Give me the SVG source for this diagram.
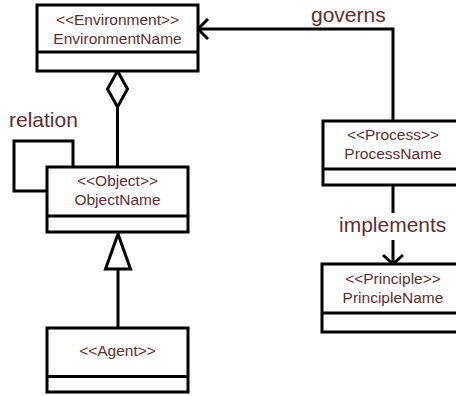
<svg xmlns="http://www.w3.org/2000/svg" width="456" height="396" viewBox="0 0 456 396">
<style>
.box{fill:#fff;stroke:#000;stroke-width:3}
.ln{fill:none;stroke:#000;stroke-width:3}
.t{font-family:"Liberation Sans",Arial,sans-serif;font-size:15.5px;fill:#652d2d;text-anchor:middle}
.lb{font-family:"Liberation Sans",Arial,sans-serif;font-size:21px;fill:#652d2d}
</style>
<rect width="456" height="396" fill="#fff"/>
<g id="connectors">
<polyline class="ln" points="73,167 73,141 14,141 14,191 47,191"/>
<line class="ln" x1="117.5" y1="107" x2="117.5" y2="167"/>
<polygon class="box" points="117.5,71 127.5,89 117.5,107 107.5,89"/>
<line class="ln" x1="118" y1="269" x2="118" y2="328"/>
<polygon class="box" points="118,234 130.5,269 105.5,269"/>
<polyline class="ln" points="393,121 393,29 199,29"/>
<polyline class="ln" points="208,19 198,29 208,39"/>
<line class="ln" x1="393" y1="185" x2="393" y2="213"/>
<line class="ln" x1="393" y1="240" x2="393" y2="264"/>
<polyline class="ln" points="383,255 393,264 403,255"/>
<text class="lb" x="9" y="127">relation</text>
<text class="lb" x="311" y="22">governs</text>
<text class="lb" x="339" y="232">implements</text>
</g>
<g id="environment">
<rect class="box" x="37" y="5" width="161" height="66"/>
<line class="ln" x1="37" y1="52" x2="198" y2="52"/>
<text class="t" x="117.5" y="25">&lt;&lt;Environment&gt;&gt;</text>
<text class="t" x="117.5" y="44">EnvironmentName</text>
</g>
<g id="object">
<rect class="box" x="47" y="167" width="141" height="65"/>
<line class="ln" x1="47" y1="216" x2="188" y2="216"/>
<text class="t" x="117.5" y="186">&lt;&lt;Object&gt;&gt;</text>
<text class="t" x="117.5" y="205">ObjectName</text>
</g>
<g id="agent">
<rect class="box" x="47" y="328" width="141" height="64"/>
<line class="ln" x1="47" y1="376.5" x2="188" y2="376.5"/>
<text class="t" x="117.5" y="356">&lt;&lt;Agent&gt;&gt;</text>
</g>
<g id="process">
<rect class="box" x="323" y="121" width="141" height="64"/>
<line class="ln" x1="323" y1="169" x2="464" y2="169"/>
<text class="t" x="393" y="140">&lt;&lt;Process&gt;&gt;</text>
<text class="t" x="393" y="159">ProcessName</text>
</g>
<g id="principle">
<rect class="box" x="322" y="264" width="142" height="68"/>
<line class="ln" x1="322" y1="313" x2="464" y2="313"/>
<text class="t" x="393" y="284">&lt;&lt;Principle&gt;&gt;</text>
<text class="t" x="393" y="303">PrincipleName</text>
</g>
</svg>
